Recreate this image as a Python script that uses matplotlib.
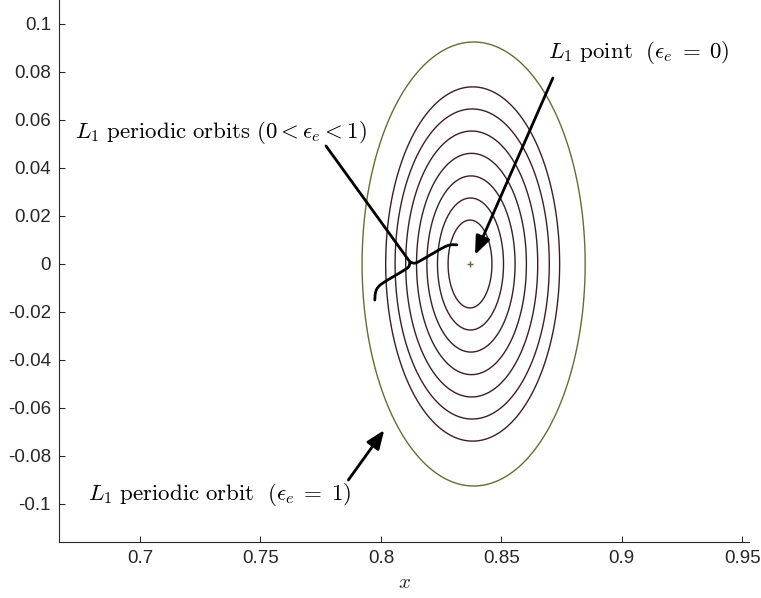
import numpy as np
import matplotlib
matplotlib.use('Agg')
import matplotlib.pyplot as plt
from matplotlib.patches import Polygon

plt.rcParams['mathtext.fontset'] = 'cm'
plt.rcParams['axes.unicode_minus'] = False
plt.rcParams['font.family'] = ['Liberation Sans', 'DejaVu Sans']

# L1 point (Earth-Moon, normalised units)
l1_x = 0.8369
l1_y = 0.0

# family of periodic orbits (0 < eps_e < 1), drawn as closed curves
orbit_cx = [0.8370, 0.8372, 0.8374, 0.8376, 0.8377, 0.8379, 0.8381]
orbit_ax = [0.0091, 0.0137, 0.0183, 0.0228, 0.0274, 0.0320, 0.0361]
orbit_ay = [0.0183, 0.0275, 0.0367, 0.0461, 0.0554, 0.0646, 0.0738]

# limiting orbit (eps_e = 1)
outer_cx = 0.8385
outer_ax = 0.0463
outer_ay = 0.0925

x_ticks = [0.7, 0.75, 0.8, 0.85, 0.9, 0.95]
x_tick_labels = ['0.7', '0.75', '0.8', '0.85', '0.9', '0.95']
y_ticks = [-0.1, -0.08, -0.06, -0.04, -0.02, 0, 0.02, 0.04, 0.06, 0.08, 0.1]
y_tick_labels = ['-0.1', '-0.08', '-0.06', '-0.04', '-0.02', '0',
                 '0.02', '0.04', '0.06', '0.08', '0.1']

ring_col = '#3f1d24'
outer_col = '#62702f'
axis_col = '#262626'


def half_brace(base, d, nrm, length, hook, cusp, side):
    s = np.linspace(0, length, 200)
    n = cusp * 2 * (1 - 1 / (1 + np.exp(-1600 * s))) \
        - hook * 2 / (1 + np.exp(-700 * (s - length)))
    pts = base[None, :] + side * s[:, None] * d[None, :] + n[:, None] * nrm[None, :]
    return pts


fig = plt.figure(figsize=(7.61, 5.98), dpi=100)
ax = fig.add_axes([0.0779, 0.0942, 0.9063, 0.9058])

t = np.linspace(0, 2 * np.pi, 400, endpoint=False)
for cx, a, b in zip(orbit_cx, orbit_ax, orbit_ay):
    ring = np.column_stack([cx + a * np.cos(t), b * np.sin(t)])
    ax.add_patch(Polygon(ring, closed=True, fill=False, edgecolor=ring_col, lw=1.0))
outer = np.column_stack([outer_cx + outer_ax * np.cos(t), outer_ay * np.sin(t)])
ax.add_patch(Polygon(outer, closed=True, fill=False, edgecolor=outer_col, lw=1.0))
ax.plot([l1_x], [l1_y], marker='+', color=outer_col, ms=4, mew=1.0)

ax.set_xlim(0.6665, 0.9528)
ax.set_ylim(-0.1157, 0.1100)
ax.set_xticks(x_ticks)
ax.set_xticklabels(x_tick_labels)
ax.set_yticks(y_ticks)
ax.set_yticklabels(y_tick_labels)
ax.tick_params(direction='in', length=4.5, width=0.75, colors=axis_col,
               labelsize=13.5, pad=6)
for sp in ['top', 'right']:
    ax.spines[sp].set_visible(False)
for sp in ['left', 'bottom']:
    ax.spines[sp].set_color(axis_col)
    ax.spines[sp].set_linewidth(0.8)
ax.set_xlabel(r'$x$', fontsize=15, color=axis_col, labelpad=4)

txt = dict(fontsize=16.5, color='k', va='center', ha='left')
arr = dict(arrowstyle='-|>,head_length=0.8,head_width=0.32', color='k', lw=2,
           shrinkA=0, shrinkB=0, mutation_scale=14)

# L1 point label
ax.text(0.8694, 0.0883, r'$L_1\ \mathrm{point}\ \ (\epsilon_e\;=\;0)$', **txt)
ax.annotate('', xy=(0.8391, 0.0038), xytext=(0.8714, 0.0775), arrowprops=arr)

# family of orbits label + brace
ax.text(0.6730, 0.0546,
        r'$L_1\ \mathrm{periodic}\ \mathrm{orbits}\ (0 < \epsilon_e < 1)$', **txt)
ax.plot([0.7772, 0.8121], [0.0492, 0.0008], color='k', lw=2, solid_capstyle='round')
base = np.array([0.81295, -0.00067])
d = np.array([0.862, 0.508])
nrm = np.array([-0.508, 0.862])
left = half_brace(base, d, nrm, 0.0206, 0.0045, 0.0018, -1)
right = half_brace(base, d, nrm, 0.0204, 0.0020, 0.0018, 1)
pts = np.vstack([left[::-1], right])
ax.plot(pts[:, 0], pts[:, 1], color='k', lw=2, solid_capstyle='round')

# limiting orbit label
ax.text(0.6784, -0.0962,
        r'$L_1\ \mathrm{periodic}\ \mathrm{orbit}\ \ (\epsilon_e\;=\;1)$', **txt)
ax.annotate('', xy=(0.8014, -0.0692), xytext=(0.7865, -0.0900), arrowprops=arr)

fig.savefig('out.png', dpi=100)
